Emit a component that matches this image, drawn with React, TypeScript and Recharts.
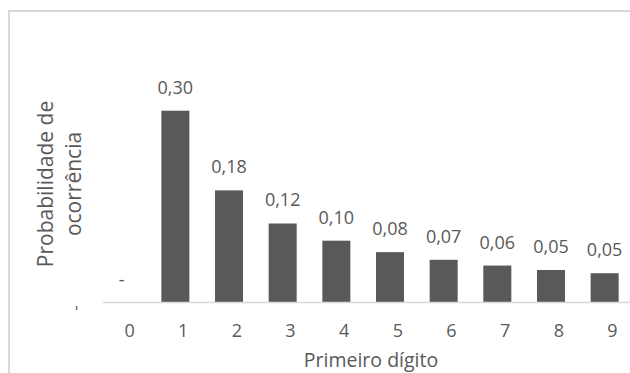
import React from 'react';
import { BarChart, Bar, XAxis, YAxis, LabelList, Label } from 'recharts';

// Probability of each leading digit (Benford distribution)
const digits = ['0', '1', '2', '3', '4', '5', '6', '7', '8', '9'];
const probabilities = [0, 0.301, 0.176, 0.124, 0.097, 0.079, 0.067, 0.058, 0.051, 0.046];
// Category boundaries used for the small separator ticks on the x axis
const boundaryTicks = [-0.5, 0.5, 1.5, 2.5, 3.5, 4.5, 5.5, 6.5, 7.5, 8.5, 9.5];
const yTicks = [0];

const xTitle = 'Primeiro dígito';
const yTitleLines = ['Probabilidade de', 'ocorrência'];

const data = digits.map((digit, i) => ({ digit, idx: i, p: probabilities[i] }));

const FONT = '"Open Sans", "Noto Sans", sans-serif';
const TEXT = '#595959';
const AXIS = '#d9d9d9';
const BAR = '#595959';
// bars sit slightly left of the category centre (clustered layout)
const SHIFT = -8;

const fmt = (v: number) => (v === 0 ? '-' : v.toFixed(2).replace('.', ','));

const ShiftedBar = (props: any) => {
  const { x, y, width, height, fill } = props;
  if (!height || height <= 0) return <g />;
  return <rect x={x + SHIFT} y={y} width={width} height={height} fill={fill} />;
};

const ValueLabel = (props: any) => {
  const { x, y, width, value } = props;
  return (
    <text
      x={x + width / 2 + SHIFT}
      y={y - 17}
      textAnchor="middle"
      fontFamily={FONT}
      fontSize={18}
      fill={TEXT}
    >
      {fmt(Number(value))}
    </text>
  );
};

const YTick = (props: any) => {
  const { x, y, payload } = props;
  const cx = x - 28.4;
  const cy = y + 5.5;
  return (
    <text
      x={cx}
      y={cy}
      textAnchor="middle"
      dominantBaseline="central"
      fontFamily={FONT}
      fontSize={17}
      fill={TEXT}
      transform={`rotate(-90, ${cx}, ${cy})`}
    >
      {fmt(payload.value)}
    </text>
  );
};

const YTitle = (props: any) => {
  const { viewBox } = props;
  const cx = viewBox.x + 44.5;
  const cy = viewBox.y + viewBox.height / 2 - 7;
  return (
    <text
      x={cx}
      y={cy}
      textAnchor="middle"
      fontFamily={FONT}
      fontSize={21}
      fill={TEXT}
      transform={`rotate(-90, ${cx}, ${cy})`}
    >
      <tspan x={cx} dy={0}>{yTitleLines[0]}</tspan>
      <tspan x={cx} dy={28.3}>{yTitleLines[1]}</tspan>
    </text>
  );
};

export default function App() {
  return (
    <div
      style={{
        position: 'absolute',
        left: 8,
        top: 8,
        width: 622,
        height: 365,
        overflow: 'hidden',
        background: '#fff',
      }}
    >
      <div
        style={{
          position: 'absolute',
          left: 0,
          top: 2,
          width: 700,
          height: 500,
          borderTop: `2px solid ${AXIS}`,
          borderLeft: `2px solid ${AXIS}`,
          boxSizing: 'border-box',
        }}
      />
      <div style={{ position: 'absolute', left: 0, top: 0 }}>
        <BarChart
          width={640}
          height={365}
          data={data}
          margin={{ top: 71.5, right: 8.7, left: 0, bottom: 0 }}
        >
          <XAxis
            xAxisId="bounds"
            type="number"
            dataKey="idx"
            domain={[-0.5, 9.5]}
            ticks={boundaryTicks}
            allowDataOverflow
            tick={false}
            axisLine={false}
            tickLine={{ stroke: AXIS, strokeWidth: 1.5 }}
            tickSize={7}
            height={0}
          />
          <XAxis
            dataKey="digit"
            axisLine={{ stroke: AXIS, strokeWidth: 1.5 }}
            tickLine={false}
            tickSize={0}
            tickMargin={22}
            tick={{ fill: TEXT, fontSize: 18, fontFamily: FONT }}
            height={70.5}
          >
            <Label
              value={xTitle}
              position="insideBottom"
              offset={6}
              fill={TEXT}
              fontSize={19.5}
              fontFamily={FONT}
            />
          </XAxis>
          <YAxis
            width={94.7}
            domain={[0, 0.35]}
            ticks={yTicks}
            axisLine={false}
            tickLine={false}
            tickSize={0}
            tickMargin={0}
            tick={<YTick />}
          >
            <Label content={<YTitle />} />
          </YAxis>
          <Bar
            dataKey="p"
            fill={BAR}
            barSize={28}
            shape={<ShiftedBar />}
            isAnimationActive={false}
          >
            <LabelList dataKey="p" content={<ValueLabel />} />
          </Bar>
        </BarChart>
      </div>
    </div>
  );
}
